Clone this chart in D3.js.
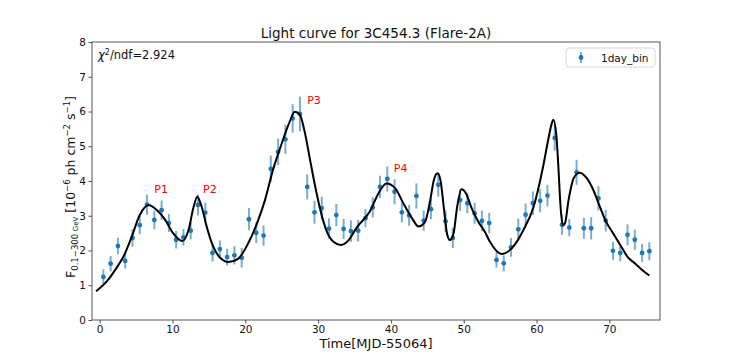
<!DOCTYPE html>
<html>
<head>
<meta charset="utf-8">
<script src="https://cdn.jsdelivr.net/npm/d3@7"></script>
<style>
  body { margin: 0; background: #fff; }
  svg { font-family: "DejaVu Sans", sans-serif; }
</style>
</head>
<body>
<svg width="734" height="360"></svg>
<script>
// 1-day binned flux points
var days = [0.5, 1.5, 2.5, 3.5, 4.5, 5.5, 6.5, 7.5, 8.5, 9.5,
    10.5, 11.5, 12.5, 13.5, 14.5, 15.5, 16.5, 17.5, 18.5, 19.5,
    20.5, 21.5, 22.5, 23.5, 24.5, 25.5, 26.5, 27.5, 28.5, 29.5,
    30.5, 31.5, 32.5, 33.5, 34.5, 35.5, 36.5, 37.5, 38.5, 39.5,
    40.5, 41.5, 42.5, 43.5, 44.5, 45.5, 46.5, 47.5, 48.5, 49.5,
    50.5, 51.5, 52.5, 53.5, 54.5, 55.5, 56.5, 57.5, 58.5, 59.5,
    60.5, 61.5, 62.5, 63.5, 64.5, 65.5, 66.5, 67.5, 68.5, 69.5,
    70.5, 71.5, 72.5, 73.5, 74.5, 75.5];
var flux = [1.24, 1.62, 2.13, 1.70, 2.36, 2.73, 3.32, 2.88, 3.16, 2.79,
    2.31, 2.38, 2.57, 3.31, 3.09, 1.93, 2.04, 1.81, 1.86, 1.79,
    2.90, 2.51, 2.43, 4.35, 4.84, 5.20, 5.80, 5.93, 3.83, 3.10,
    3.22, 2.63, 3.02, 2.62, 2.56, 2.57, 2.93, 3.24, 3.83, 4.06,
    3.69, 3.10, 3.01, 3.57, 2.86, 3.19, 3.89, 2.84, 2.36, 3.45,
    3.36, 3.07, 2.85, 2.79, 1.73, 1.63, 2.09, 2.61, 3.03, 3.36,
    3.43, 3.58, 5.24, 2.74, 2.66, 4.25, 2.64, 2.64, 3.50, 2.86,
    1.99, 1.93, 2.45, 2.31, 1.93, 1.98];
var fluxErr = [0.22, 0.22, 0.24, 0.22, 0.25, 0.26, 0.29, 0.27, 0.28, 0.26,
    0.25, 0.24, 0.25, 0.30, 0.29, 0.25, 0.25, 0.24, 0.26, 0.28,
    0.32, 0.30, 0.29, 0.38, 0.38, 0.42, 0.41, 0.50, 0.36, 0.33,
    0.33, 0.30, 0.32, 0.29, 0.31, 0.31, 0.26, 0.29, 0.32, 0.36,
    0.36, 0.29, 0.30, 0.36, 0.29, 0.29, 0.34, 0.31, 0.29, 0.31,
    0.29, 0.30, 0.30, 0.29, 0.22, 0.23, 0.27, 0.31, 0.32, 0.34,
    0.33, 0.31, 0.37, 0.29, 0.25, 0.36, 0.30, 0.32, 0.35, 0.31,
    0.26, 0.24, 0.30, 0.29, 0.26, 0.26];

// fitted model curve
var fitDays = [-0.5, 1.0, 2.4, 3.25, 4.4, 5.5, 6.7, 7.8, 9.0, 10.1,
    11.35, 12.2, 12.9, 13.4, 14.0, 14.7, 15.6, 16.5, 17.7, 19.0,
    20.4, 21.6, 22.7, 23.8, 25.0, 26.1, 26.8, 27.5, 28.2, 28.9,
    29.6, 30.3, 31.2, 32.1, 33.1, 34.2, 35.3, 37.1, 38.3, 39.4,
    40.6, 41.7, 42.9, 43.8, 44.7, 45.4, 45.9, 46.4, 46.8, 47.3,
    47.7, 48.1, 48.6, 49.1, 49.7, 50.3, 51.1, 52.0, 52.9, 53.6,
    55.2, 56.8, 58.2, 59.6, 60.9, 61.6, 62.1, 62.3, 62.7, 63.0,
    63.3, 63.6, 63.9, 64.4, 65.1, 65.9, 66.9, 67.8, 68.7, 69.5,
    70.5, 71.5, 72.5, 73.5, 74.5, 75.5];
var fitFlux = [0.83, 1.12, 1.53, 1.82, 2.40, 3.02, 3.31, 3.17, 2.88, 2.49,
    2.27, 2.59, 3.26, 3.55, 3.26, 2.68, 2.11, 1.80, 1.67, 1.76,
    2.21, 2.78, 3.45, 4.32, 5.08, 5.71, 5.99, 5.90, 5.37, 4.60,
    3.84, 3.17, 2.54, 2.25, 2.16, 2.30, 2.66, 3.12, 3.65, 3.93,
    3.79, 3.36, 2.93, 2.69, 2.83, 3.45, 4.03, 4.22, 4.03, 3.17,
    2.49, 2.30, 2.49, 3.26, 3.76, 3.65, 3.21, 2.83, 2.54, 2.25,
    1.90, 2.11, 2.59, 3.26, 4.41, 5.18, 5.66, 5.76, 5.37, 4.41,
    3.26, 2.73, 2.78, 3.45, 4.08, 4.24, 4.08, 3.74, 3.26, 2.85,
    2.50, 2.16, 1.82, 1.63, 1.44, 1.28];

var peakLabels = ["P1", "P2", "P3", "P4"];
var peakDays = [7.5, 14.2, 28.5, 40.4];
var peakFlux = [3.65, 3.65, 6.22, 4.27];

var xTicks = [0, 10, 20, 30, 40, 50, 60, 70];
var yTicks = [0, 1, 2, 3, 4, 5, 6, 7, 8];

var svg = d3.select("svg");
var plotL = 92, plotR = 660, plotT = 42, plotB = 320;

var x = d3.scaleLinear().domain([-1.06, 76.96]).range([plotL, plotR]);
var y = d3.scaleLinear().domain([0, 8]).range([plotB, plotT]);

/*
    Axes
*/
var xAxis = svg.append("g")
    .attr("transform", "translate(0," + plotB + ")")
    .call(d3.axisBottom(x).tickValues(xTicks).tickSize(3.5).tickPadding(2.5));
var yAxis = svg.append("g")
    .attr("transform", "translate(" + plotL + ",0)")
    .call(d3.axisLeft(y).tickValues(yTicks).tickSize(3.5).tickPadding(2.5));
[xAxis, yAxis].forEach(function (ax) {
    ax.select(".domain").remove();
    ax.selectAll("line").attr("stroke", "#222").attr("stroke-width", 0.8);
    ax.selectAll("text")
        .attr("font-family", "DejaVu Sans")
        .attr("font-size", 10.5)
        .attr("fill", "#111");
});

svg.append("rect")
    .attr("x", plotL).attr("y", plotT)
    .attr("width", plotR - plotL).attr("height", plotB - plotT)
    .attr("fill", "none")
    .attr("stroke", "#444")
    .attr("stroke-width", 0.9);

/*
    Data
*/
var pts = days.map(function (d, i) { return { t: d, f: flux[i], e: fluxErr[i] }; });

svg.append("g").selectAll("line").data(pts).enter().append("line")
    .attr("x1", function (d) { return x(d.t); })
    .attr("x2", function (d) { return x(d.t); })
    .attr("y1", function (d) { return y(d.f - d.e); })
    .attr("y2", function (d) { return y(d.f + d.e); })
    .attr("stroke", "#1f77b4")
    .attr("stroke-opacity", 0.6)
    .attr("stroke-width", 2);

svg.append("g").selectAll("circle").data(pts).enter().append("circle")
    .attr("cx", function (d) { return x(d.t); })
    .attr("cy", function (d) { return y(d.f); })
    .attr("r", 2.4)
    .attr("fill", "#1f77b4");

var fitLine = d3.line()
    .x(function (d, i) { return x(fitDays[i]); })
    .y(function (d) { return y(d); })
    .curve(d3.curveMonotoneX);
svg.append("path")
    .attr("d", fitLine(fitFlux))
    .attr("fill", "none")
    .attr("stroke", "#000")
    .attr("stroke-width", 2);

svg.append("g").selectAll("text").data(peakLabels).enter().append("text")
    .attr("x", function (d, i) { return x(peakDays[i]); })
    .attr("y", function (d, i) { return y(peakFlux[i]); })
    .attr("font-size", 11)
    .attr("fill", "red")
    .text(function (d) { return d; });

/*
    Texts
*/
svg.append("text")
    .attr("x", (plotL + plotR) / 2).attr("y", 38)
    .attr("text-anchor", "middle")
    .attr("font-size", 13.5)
    .attr("fill", "#111")
    .text("Light curve for 3C454.3 (Flare-2A)");

svg.append("text")
    .attr("x", (plotL + plotR) / 2).attr("y", 348)
    .attr("text-anchor", "middle")
    .attr("font-size", 13)
    .attr("fill", "#111")
    .text("Time[MJD-55064]");

var chi = svg.append("text")
    .attr("x", 98).attr("y", 59)
    .attr("font-size", 11.5)
    .attr("fill", "#111");
chi.append("tspan").attr("font-style", "italic").text("\u03c7");
chi.append("tspan").attr("font-size", 8).attr("dy", -4.5).text("2");
chi.append("tspan").attr("dy", 4.5).text("/ndf=2.924");

var yl = svg.append("text")
    .attr("transform", "translate(75,187) rotate(-90)")
    .attr("text-anchor", "middle")
    .attr("font-size", 12.5)
    .attr("fill", "#111");
yl.append("tspan").text("F");
yl.append("tspan").attr("font-size", 8.5).attr("dy", 2.5).text("0.1\u2212300 ");
yl.append("tspan").attr("font-size", 7).text("GeV");
yl.append("tspan").attr("dy", -2.5).text(" [10");
yl.append("tspan").attr("font-size", 8.5).attr("dy", -5.5).text("\u22126");
yl.append("tspan").attr("dy", 5.5).text(" ph cm");
yl.append("tspan").attr("font-size", 8.5).attr("dy", -5.5).text("\u22122");
yl.append("tspan").attr("dy", 5.5).text(" s");
yl.append("tspan").attr("font-size", 8.5).attr("dy", -5.5).text("\u22121");
yl.append("tspan").attr("dy", 5.5).text("]");

/*
    Legend
*/
var lg = svg.append("g");
lg.append("rect")
    .attr("x", 566).attr("y", 48)
    .attr("width", 89).attr("height", 19)
    .attr("rx", 3)
    .attr("fill", "#fff")
    .attr("stroke", "#d6d6d6");
lg.append("line")
    .attr("x1", 581).attr("x2", 581)
    .attr("y1", 52).attr("y2", 63)
    .attr("stroke", "#1f77b4").attr("stroke-opacity", 0.6).attr("stroke-width", 2);
lg.append("circle").attr("cx", 581).attr("cy", 57.5).attr("r", 2.4).attr("fill", "#1f77b4");
lg.append("text")
    .attr("x", 601).attr("y", 61.5)
    .attr("font-size", 10.5)
    .attr("fill", "#111")
    .text("1day_bin");
</script>
</body>
</html>
